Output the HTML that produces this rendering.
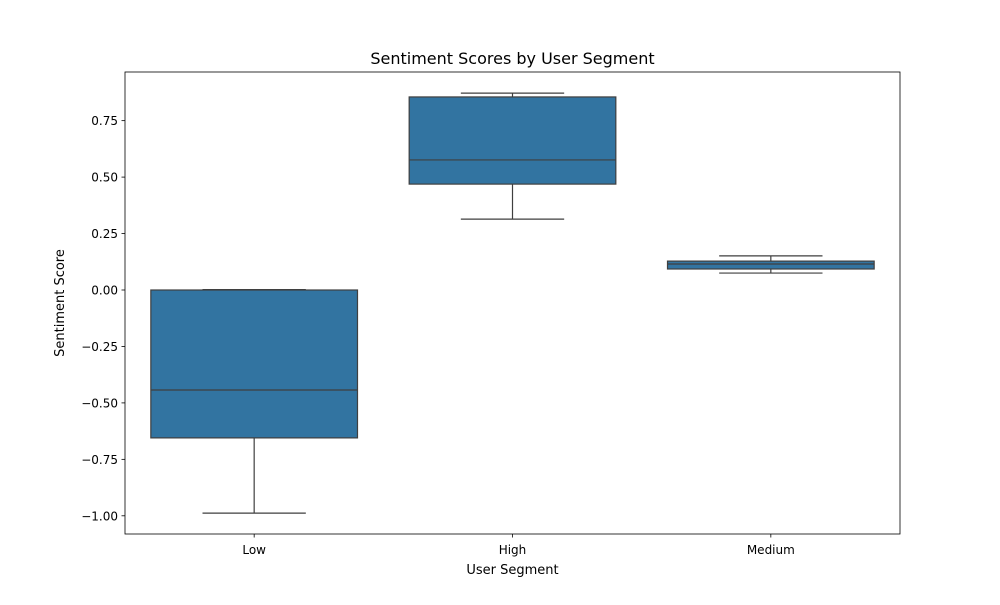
<!DOCTYPE html>
<html><head><meta charset="utf-8"><style>
body{margin:0;background:#fff;font-family:"Liberation Sans","DejaVu Sans",sans-serif}
svg text{font-family:"DejaVu Sans","Liberation Sans",sans-serif;fill:#000}
</style></head><body>
<svg id="chart" width="1000" height="600" viewBox="0 0 1000 600" xmlns="http://www.w3.org/2000/svg">
<rect width="1000" height="600" fill="#fff"/>
<text x="512.5" y="64" text-anchor="middle" font-size="16">Sentiment Scores by User Segment</text>
<g id="plot"></g>
<rect x="125" y="72" width="775" height="462" fill="none" stroke="#000" stroke-width="0.8"/>
<text x="512.5" y="574" text-anchor="middle" font-size="13">User Segment</text>
<text transform="translate(64,303) rotate(-90)" text-anchor="middle" font-size="13">Sentiment Score</text>
</svg>
<script>
const categories=["Low","High","Medium"];
const whiskerLow=[-0.988,0.314,0.075];
const q1=[-0.655,0.469,0.093];
const medians=[-0.443,0.576,0.115];
const q3=[0.0,0.855,0.128];
const whiskerHigh=[0.002,0.872,0.151];
const yTicks=[-1.0,-0.75,-0.5,-0.25,0.0,0.25,0.5,0.75];
const yTickLabels=["\u22121.00","\u22120.75","\u22120.50","\u22120.25","0.00","0.25","0.50","0.75"];
const NS="http://www.w3.org/2000/svg";
const g=document.getElementById('plot');
const x0=125,x1=900;
const band=(x1-x0)/categories.length;
function xc(i){return x0+band*(i+0.5);}
function y(v){return 290-v*225.8;}
function mk(tag,attrs,parent){const e=document.createElementNS(NS,tag);for(const k in attrs)e.setAttribute(k,attrs[k]);(parent||g).appendChild(e);return e;}
yTicks.forEach((v,i)=>{
  const t=mk('line',{x1:x0-3.5,x2:x0,y1:y(v),y2:y(v),stroke:'#000','stroke-width':0.8});
  
  
  const l=mk('text',{x:x0-7,y:y(v)+4.5,'text-anchor':'end','font-size':12});
  
  
  l.textContent=yTickLabels[i];
});
categories.forEach((c,i)=>{
  const cx=xc(i),w=band*0.8,cw=w/2;
  const grp=mk('g',{});
  
  
  const s={stroke:'#3f3f3f','stroke-width':1.2};
  mk('line',Object.assign({x1:cx,x2:cx,y1:y(whiskerLow[i]),y2:y(q1[i])},s),grp);
  mk('line',Object.assign({x1:cx,x2:cx,y1:y(q3[i]),y2:y(whiskerHigh[i])},s),grp);
  mk('line',Object.assign({x1:cx-cw/2,x2:cx+cw/2,y1:y(whiskerLow[i]),y2:y(whiskerLow[i])},s),grp);
  mk('line',Object.assign({x1:cx-cw/2,x2:cx+cw/2,y1:y(whiskerHigh[i]),y2:y(whiskerHigh[i])},s),grp);
  mk('rect',Object.assign({x:cx-w/2,y:y(q3[i]),width:w,height:y(q1[i])-y(q3[i]),fill:'#3274a1'},s),grp);
  mk('line',Object.assign({x1:cx-w/2,x2:cx+w/2,y1:y(medians[i]),y2:y(medians[i])},s),grp);
  const t=mk('line',{x1:cx,x2:cx,y1:534,y2:537.5,stroke:'#000','stroke-width':0.8});
  
  
  const l=mk('text',{x:cx,y:554,'text-anchor':'middle','font-size':12});
  
  
  l.textContent=c;
});
</script>
</body></html>
